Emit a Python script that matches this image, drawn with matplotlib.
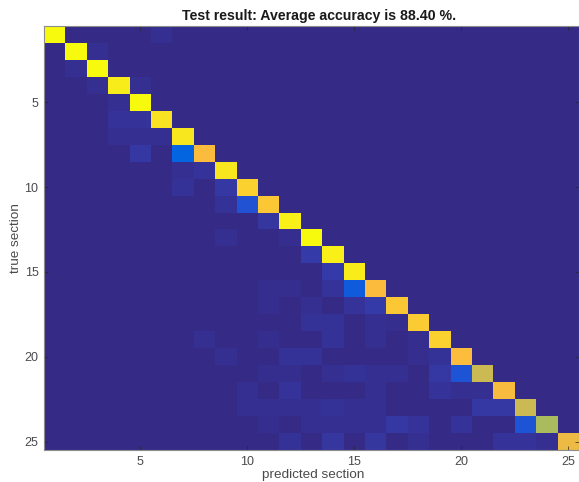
import numpy as np
import matplotlib
matplotlib.use("Agg")
import matplotlib.pyplot as plt
from matplotlib.colors import LinearSegmentedColormap

plt.rcParams['font.family'] = ['Liberation Sans', 'DejaVu Sans']

# confusion matrix, one row per true section
confusion = [
    [1.00,0,0,0,0,.03,0,0,0,0,0,0,0,0,0,0,0,0,0,0,0,0,0,0,0],
    [0,1.00,.03,0,0,0,0,0,0,0,0,0,0,0,0,0,0,0,0,0,0,0,0,0,0],
    [0,.03,1.00,0,0,0,0,0,0,0,0,0,0,0,0,0,0,0,0,0,0,0,0,0,0],
    [0,0,.03,.97,.03,0,0,0,0,0,0,0,0,0,0,0,0,0,0,0,0,0,0,0,0],
    [0,0,0,.03,1.00,0,0,0,0,0,0,0,0,0,0,0,0,0,0,0,0,0,0,0,0],
    [0,0,0,.05,.05,.95,0,0,0,0,0,0,0,0,0,0,0,0,0,0,0,0,0,0,0],
    [0,0,0,.03,.03,.03,.96,0,0,0,0,0,0,0,0,0,0,0,0,0,0,0,0,0,0],
    [0,0,0,0,.07,0,.26,.87,0,0,0,0,0,0,0,0,0,0,0,0,0,0,0,0,0],
    [0,0,0,0,0,0,.03,.05,.96,0,0,0,0,0,0,0,0,0,0,0,0,0,0,0,0],
    [0,0,0,0,0,0,.04,0,.07,.92,0,0,0,0,0,0,0,0,0,0,0,0,0,0,0],
    [0,0,0,0,0,0,0,0,.04,.17,.90,0,0,0,0,0,0,0,0,0,0,0,0,0,0],
    [0,0,0,0,0,0,0,0,0,0,.06,.98,0,0,0,0,0,0,0,0,0,0,0,0,0],
    [0,0,0,0,0,0,0,0,.03,0,0,.02,1.00,0,0,0,0,0,0,0,0,0,0,0,0],
    [0,0,0,0,0,0,0,0,0,0,0,0,.08,.98,0,0,0,0,0,0,0,0,0,0,0],
    [0,0,0,0,0,0,0,0,0,0,0,0,0,.08,.97,0,0,0,0,0,0,0,0,0,0],
    [0,0,0,0,0,0,0,0,0,0,.02,.02,0,.05,.22,.87,0,0,0,0,0,0,0,0,0],
    [0,0,0,0,0,0,0,0,0,0,.02,0,.03,0,.05,.08,.90,0,0,0,0,0,0,0,0],
    [0,0,0,0,0,0,0,0,0,0,0,0,.04,.04,0,.03,.02,.91,0,0,0,0,0,0,0],
    [0,0,0,0,0,0,0,.03,0,0,.02,0,0,.04,0,.03,0,.02,.92,0,0,0,0,0,0],
    [0,0,0,0,0,0,0,0,.03,0,0,.04,.04,0,0,0,0,.02,.04,.88,0,0,0,0,0],
    [0,0,0,0,0,0,0,0,0,0,.02,.02,0,.03,.04,.03,.03,0,.07,.18,.72,0,0,0,0],
    [0,0,0,0,0,0,0,0,0,.03,0,.05,0,0,0,.03,0,0,.05,.03,.03,.85,0,0,0],
    [0,0,0,0,0,0,0,0,0,.03,.03,.03,.03,.04,.03,.03,0,0,0,0,.07,.07,.72,0,0],
    [0,0,0,0,0,0,0,0,0,0,.02,0,.03,.03,.03,.03,.07,.05,0,.05,0,0,.18,.67,0],
    [0,0,0,0,0,0,0,0,0,0,0,.04,0,.06,0,.06,0,.03,0,0,0,.05,.05,.03,.80],
]
tick_values = [5, 10, 15, 20, 25]

# parula, approximated from a few anchors
parula = LinearSegmentedColormap.from_list("parula", [
    (0.00, (.208, .166, .529)),
    (0.06, (.212, .214, .627)),
    (0.11, (.196, .265, .728)),
    (0.17, (.125, .324, .830)),
    (0.25, (.012, .388, .882)),
    (0.38, (.050, .560, .800)),
    (0.50, (.100, .680, .650)),
    (0.62, (.500, .740, .400)),
    (0.70, (.760, .730, .350)),
    (0.80, (.930, .730, .270)),
    (0.88, (.995, .740, .240)),
    (0.94, (.975, .860, .160)),
    (1.00, (.976, .983, .054)),
])

fig = plt.figure(figsize=(5.79, 4.82), dpi=100)
ax = fig.add_axes([44 / 579, 1 - 450 / 482, 535 / 579, 424 / 482])

ax.imshow(np.array(confusion), cmap=parula, vmin=0, vmax=1, aspect='auto',
          interpolation='nearest', extent=(0.5, 25.5, 25.5, 0.5))

ax.set_xticks(tick_values)
ax.set_yticks(tick_values)
ax.tick_params(direction='in', length=3, width=0.5, color='#262626',
               labelsize=9, labelcolor='#4a4a4a', pad=4, top=True, right=True)
for side in ax.spines.values():
    side.set_linewidth(0.8)
    side.set_color('#8c8c8c')

ax.set_xlabel('predicted section', fontsize=9.7, color='#4a4a4a')
ax.xaxis.set_label_coords(269 / 535, -19 / 424)
ax.set_ylabel('true section', fontsize=9.7, color='#4a4a4a')
ax.yaxis.set_label_coords(-22 / 535, 0.5)
ax.set_title('Test result: Average accuracy is 88.40 %.', fontsize=10.2,
             fontweight='bold', color='#1a1a1a', pad=4, x=275 / 535)

fig.savefig('out.png', dpi=100)
